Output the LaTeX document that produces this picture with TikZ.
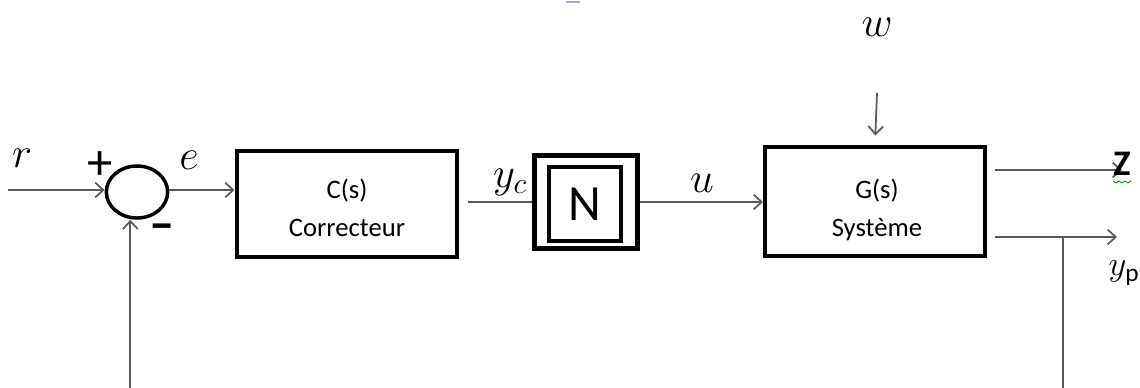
\RequirePackage{fix-cm}
\documentclass[tikz,border=0pt]{standalone}
\usepackage{amsmath}
\usepackage{xcolor}
\usepackage{fontspec}
\setmainfont{Carlito}
\usepackage{tikz}
\usetikzlibrary{arrows.meta,shapes.geometric,positioning}

\begin{document}
\begin{tikzpicture}[x=0.75pt, y=-0.75pt,
        >={Straight Barb[length=6pt,width=11pt]},
        block/.style={draw, line width=3pt, inner sep=0pt},
        boxtext/.style={align=center, inner sep=0pt, font=\fontsize{20}{28.5}\selectfont},
        wire/.style={draw=black!65, line width=1.3pt},
        sig/.style={inner sep=0pt, font=\fontsize{32}{32}\selectfont}]
    \useasboundingbox (0,0) rectangle (1140,387);

    % blocks
    \node[draw, ellipse, line width=2.6pt, minimum width=46pt, minimum height=39pt] (sum) at (137,192) {};
    \node[block, minimum width=165pt, minimum height=79pt] (corr) at (346.5,204) {};
    \node[boxtext] (corrtxt) at (347,208) {C(s)\\Correcteur};
    \node[draw, line width=3.6pt, minimum width=77pt, minimum height=70pt] (nlout) at (586,202) {};
    \node[block, minimum width=54pt, minimum height=55pt, font=\fontsize{38}{38}\selectfont] (nl) at (585,204) {N};
    \node[block, minimum width=165pt, minimum height=82pt] (sys) at (875,201.5) {};
    \node[boxtext] (systxt) at (877,210) {G(s)\\Système};

    % free ends
    \coordinate (rin) at (8,190);
    \coordinate (win) at (877,93);
    \coordinate (zout) at (1122,170);
    \coordinate (yout) at (1117,237);
    \coordinate (branch) at (1063,237);
    \coordinate (fb) at (1063,388.5);

    % signals
    \draw[wire,->] (rin) -- (rin -| sum.west);
    \draw[wire,->] (sum.east |- rin) -- (corr.west |- rin);
    \draw[wire,shorten <=7pt] (corr.east |- nlout.west) -- (nlout.west);
    \draw[wire,->] (nlout.east) -- (sys.west |- nlout.east);
    \draw[wire,->,shorten >=7pt] (win) -- (sys.north);
    \draw[wire,->,shorten <=6pt] (sys.east |- zout) -- (zout);
    \draw[wire,->,shorten <=6pt] (sys.east |- yout) -- (yout);
    \draw[wire,->] (branch) -- (fb) -| ([xshift=-5pt]sum.south);

    % labels
    \node[sig] (rlab) at (22,158) {$r$};
    \node[inner sep=0pt, font=\fontsize{38}{38}\selectfont] (plus) at (100,166) {+};
    \node[inner sep=0pt, font=\fontsize{38}{38}\selectfont\bfseries] (minus) at (162,232) {--};
    \node[sig] (elab) at (189,160) {$e$};
    \node[sig] (yclab) at (510,182) {$y_c$};
    \node[sig] (ulab) at (702,183) {$u$};
    \node[sig] (wlab) at (877,27) {$w$};
    \node[inner sep=0pt, font=\fontsize{27}{27}\selectfont\bfseries] (zlab) at (1122,164) {Z};
    \node[inner sep=0pt, font=\fontsize{26}{26}\selectfont] (yplab) at (1124,273) {$y_{\text{\fontsize{19}{19}\selectfont p}}$};

    % spelling squiggle under Z and a stray mark at the top
    \draw[green!55!black, line width=0.6pt] (1113,181) -- (1116,183) -- (1119,181) -- (1122,183) -- (1125,181) -- (1128,183) -- (1131,181);
    \draw[blue!35!gray!50, line width=1.5pt] (566,2) -- (580,2);
\end{tikzpicture}
\end{document}
